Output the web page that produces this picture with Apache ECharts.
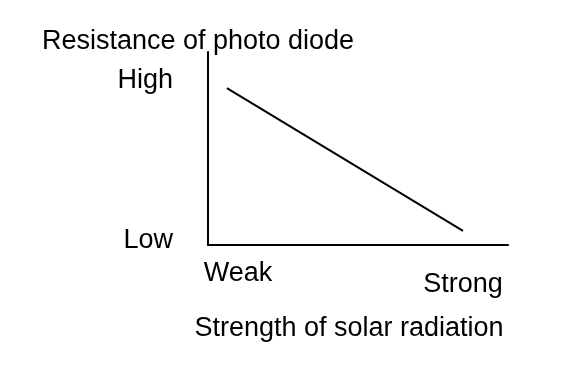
<!DOCTYPE html>
<html>
<head>
<meta charset="utf-8">
<script src="https://cdn.jsdelivr.net/npm/echarts@6/dist/echarts.min.js"></script>
<style>html,body{margin:0;padding:0;background:#fff;}#c{width:576px;height:390px;}</style>
</head>
<body>
<div id="c"></div>
<script>
// Data
const xValues = [0.63, 8.5];          // strength of solar radiation (relative)
const yValues = [8.13, 0.73];         // resistance of photo diode (relative)
const xTickValues = [1, 8.5];
const xTickLabels = ['Weak', 'Strong'];
const yTickValues = [0, 8.5];
const yTickLabels = ['Low', 'High'];
const xTitle = 'Strength of solar radiation';
const yTitle = 'Resistance of photo diode';

const FONT = 'Liberation Sans, Arial, Helvetica, sans-serif';
const FS = 27;
const chart = echarts.init(document.getElementById('c'), null, {renderer: 'canvas'});
chart.setOption({
  backgroundColor: '#fff',
  animation: false,
  grid: {left: 208, right: 68, top: 52, bottom: 145, containLabel: false},
  xAxis: {
    type: 'value', min: 0, max: 10,
    name: xTitle, nameLocation: 'middle', nameGap: 70,
    nameTextStyle: {color: '#000', fontFamily: FONT, fontSize: FS, padding: [0, 18, 0, 0]},
    axisLine: {show: true, lineStyle: {color: '#000', width: 2}},
    axisTick: {show: false},
    splitLine: {show: false},
    axisLabel: {
      customValues: xTickValues,
      margin: 15,
      fontFamily: FONT, fontSize: FS, color: '#000',
      formatter: function (v) {
        const i = xTickValues.indexOf(v);
        return i === 0 ? '{a|' + xTickLabels[0] + '}' : '{b|' + xTickLabels[i] + '}';
      },
      rich: {
        a: {fontFamily: FONT, fontSize: FS, color: '#000'},
        b: {fontFamily: FONT, fontSize: FS, color: '#000', padding: [11, 0, 0, 0]}
      }
    }
  },
  yAxis: {
    type: 'value', min: 0, max: 10,
    name: yTitle, nameLocation: 'end', nameGap: -3,
    nameTextStyle: {color: '#000', fontFamily: FONT, fontSize: FS, align: 'center', padding: [0, 20, 0, 0]},
    axisLine: {show: true, lineStyle: {color: '#000', width: 2}},
    axisTick: {show: false},
    splitLine: {show: false},
    axisLabel: {
      customValues: yTickValues,
      margin: 35,
      fontFamily: FONT, fontSize: FS, color: '#000',
      formatter: function (v) {
        const i = yTickValues.indexOf(v);
        return i === 0 ? '{l|' + yTickLabels[0] + '}' : '{h|' + yTickLabels[i] + '}';
      },
      rich: {
        l: {fontFamily: FONT, fontSize: FS, color: '#000', padding: [0, 0, 8, 0]},
        h: {fontFamily: FONT, fontSize: FS, color: '#000'}
      }
    }
  },
  series: [{
    type: 'line',
    data: xValues.map((x, i) => [x, yValues[i]]),
    symbol: 'none',
    lineStyle: {color: '#000', width: 2}
  }]
});
</script>
</body>
</html>
